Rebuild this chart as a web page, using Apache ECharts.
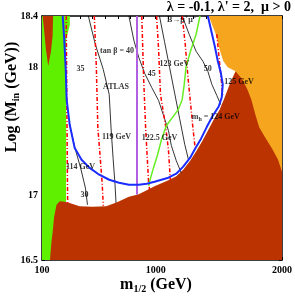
<!DOCTYPE html>
<html><head><meta charset="utf-8">
<script src="https://cdn.jsdelivr.net/npm/echarts@6/dist/echarts.min.js"></script>
<style>html,body{margin:0;padding:0;background:#fff}#c{width:295px;height:301px}</style>
</head><body><div id="c"></div>
<script>
// ---- axis ranges / ticks ----
const xRange = [100, 2000];
const yRange = [16.5, 18.4];
const xTickLabels = [100, 1000, 2000];
const yTickLabels = [16.5, 17, 18, 18.4];

// ---- excluded regions (m_1/2 [GeV], log10 M_in) ----
const greenRegion = [[100,18.4],[320,18.4],[320,18.33],[292,18.22],[290,16.5],[100,16.5]];
const orangeRegion = [[1421,18.4],[1445,18.336],[1476,18.258],[1506,18.14],[1535,18.05],[1570,18.0],[1632,17.969],[1687,17.594],[2000,16.969],[2000,18.4]];
const brownRegion = [[163,16.5],[174,16.633],[186,16.734],[196,16.836],[215,16.93],[241,16.957],[280,16.953],[319,16.943],[397,16.918],[499,16.914],[608,16.918],[694,16.949],[788,16.992],[866,17.012],[929,17.043],[991,17.074],[1046,17.098],[1101,17.121],[1163,17.152],[1218,17.203],[1273,17.273],[1320,17.344],[1367,17.422],[1414,17.508],[1460,17.594],[1507,17.672],[1546,17.766],[1585,17.867],[1632,17.969],[1687,17.906],[1726,17.828],[1757,17.75],[1789,17.633],[1820,17.531],[1867,17.453],[1922,17.367],[1969,17.281],[2000,17.188],[2000,16.5]];
const brownTopLeft = [[105,18.4],[116,18.297],[131,18.141],[149,18.01],[170,18.117],[184,18.245],[188,18.4]];

// ---- contours ----
const blueBoundary = [[264,18.4],[276,18.219],[288,17.984],[295,17.75],[319,17.555],[358,17.375],[413,17.281],[475,17.219],[553,17.164],[632,17.125],[710,17.102],[788,17.086],[866,17.086],[929,17.094],[991,17.109],[1046,17.125],[1101,17.141],[1163,17.172],[1218,17.227],[1273,17.297],[1312,17.367],[1359,17.445],[1406,17.539],[1453,17.625],[1499,17.695],[1523,17.766],[1531,17.867],[1515,17.961],[1492,18.047],[1468,18.164],[1437,18.297],[1413,18.4]];
const mh114 = [[292,18.4],[296,17.8],[300,17.3],[303,16.94]];
const mh119 = [[514,18.4],[530,18.008],[542,17.531],[561,17.297],[577,17.086],[585,16.922]];
const mh1225 = [[890,18.4],[905,17.906],[921,17.516],[944,17.102],[952,17.047]];
const mh123 = [[1007,18.4],[1023,18.141],[1038,17.789],[1077,17.555],[1101,17.359],[1116,17.125]];
const mh124 = [[1210,18.4],[1234,18.18],[1257,17.906],[1273,17.75],[1296,17.516],[1312,17.375]];
const mh125 = [[1484,18.258],[1499,18.102],[1515,17.945],[1531,17.773]];
const tb30 = [[319,17.555],[360,17.375],[405,17.22],[444,17.06],[460,16.93]];
const tb35 = [[467,18.4],[522,18.18],[585,17.984],[632,17.79],[647,17.52],[663,17.29],[678,17.09],[686,16.945]];
const tb40 = [[788,18.4],[827,18.211],[866,18.078],[913,17.953],[968,17.844],[1023,17.742],[1062,17.625],[1101,17.508],[1124,17.391],[1163,17.273],[1202,17.18]];
const tb45 = [[1030,18.4],[1070,18.2],[1110,18.0],[1150,17.8],[1190,17.6],[1230,17.4],[1260,17.28]];
const tb50 = [[1210,18.4],[1265,18.258],[1320,18.125],[1374,18.047],[1413,17.969],[1445,17.867],[1484,17.781],[1515,17.71]];
const bmumu = [[1351,18.4],[1320,18.258],[1273,18.117],[1241,18.008],[1226,17.867],[1210,17.75],[1179,17.672],[1132,17.609],[1085,17.547],[1046,17.438],[1015,17.32],[983,17.219],[960,17.141],[944,17.078]];
const atlas = [[852,18.4],[852,17.01]];

// ---- annotations [m, logM, text] ----
const annotations = [
  [694,18.125,'tan β = 40'],
  [405,17.984,'35'],
  [686,17.844,'ATLAS'],
  [690,17.461,'119 GeV'],
  [405,17.227,'114 GeV'],
  [436,17.008,'30'],
  [1030,17.453,'122.5 GeV'],
  [968,17.945,'45'],
  [1148,18.03,'123 GeV'],
  [1205,18.37,'B→μ{sup|+}μ{sup|−}'],
  [1413,17.984,'50'],
  [1660,17.89,'125 GeV'],
  [1476,17.617,'m{sub|h} = 124 GeV']
];

const FONT = 'Liberation Serif';
const near = (a,b)=>Math.abs(a-b)<1e-6;

function poly(pts, color, z){
  return {type:'custom', coordinateSystem:'cartesian2d', data:[[pts[0][0],pts[0][1]]], silent:true, z:z, animation:false,
    renderItem:(params, api)=>({type:'polygon', shape:{points:pts.map(p=>api.coord(p))}, style:{fill:color}})};
}
function line(pts, color, width, type, z){
  return {type:'line', data:pts, symbol:'none', showSymbol:false, silent:true, animation:false, z:z,
    lineStyle:{color:color, width:width, type:type}};
}
const DD = [4,2,1,2];

const chart = echarts.init(document.getElementById('c'), null, {renderer:'canvas'});
const axisCommon = {
  type:'value', axisLine:{show:true, lineStyle:{color:'#000', width:1.5}},
  axisTick:{show:true, inside:true, length:3, lineStyle:{color:'#000', width:1}},
  splitLine:{show:false}
};
chart.setOption({
  animation:false,
  grid:{left:42, right:9, top:16, bottom:41},
  xAxis:[
    Object.assign({}, axisCommon, {min:xRange[0], max:xRange[1], interval:100, position:'bottom',
      axisLabel:{show:true, margin:5, fontFamily:FONT, fontWeight:'bold', fontSize:10, color:'#000', showMinLabel:true, showMaxLabel:true, hideOverlap:false,
        formatter:v=>xTickLabels.some(t=>near(t,v))?String(v):''}}),
    Object.assign({}, axisCommon, {min:xRange[0], max:xRange[1], interval:100, position:'top', axisLabel:{show:false}})
  ],
  yAxis:[
    Object.assign({}, axisCommon, {min:yRange[0], max:yRange[1], interval:0.1, position:'left',
      axisLabel:{show:true, margin:4, fontFamily:FONT, fontWeight:'bold', fontSize:10, color:'#000', showMinLabel:true, showMaxLabel:true, hideOverlap:false,
        formatter:v=>{const t=yTickLabels.find(t=>near(t,v)); return t===undefined?'':String(t);}}}),
    Object.assign({}, axisCommon, {min:yRange[0], max:yRange[1], interval:0.1, position:'right', axisLabel:{show:false}})
  ],
  graphic:[
    {type:'text', right:4, top:0, style:{text:"λ = -0.1, λ' = 2,  μ > 0", font:'bold 14px "Liberation Serif"', fill:'#000'}},
    {type:'text', x:156, y:276, style:{text:'{n|m}{s|1/2}{n| (GeV)}', align:'center', verticalAlign:'top',
      rich:{n:{fontFamily:FONT, fontWeight:'bold', fontSize:16, fill:'#000'}, s:{fontFamily:FONT, fontWeight:'bold', fontSize:10, fill:'#000', padding:[8,0,0,0]}}}},
    {type:'text', x:12, y:97, rotation:Math.PI/2, style:{text:'{n|Log (M}{s|in}{n| (GeV))}', align:'center', verticalAlign:'middle',
      rich:{n:{fontFamily:FONT, fontWeight:'bold', fontSize:16, fill:'#000'}, s:{fontFamily:FONT, fontWeight:'bold', fontSize:10, fill:'#000', padding:[8,0,0,0]}}}}
  ],
  series:[
    poly(greenRegion,'#5ff000',1),
    poly(orangeRegion,'#f5a61e',2),
    poly(brownRegion,'#bb3300',3),
    poly(brownTopLeft,'#bb3300',3),
    line(tb30,'#000',0.8,'solid',5),
    line(tb35,'#000',0.8,'solid',5),
    line(tb40,'#000',0.8,'solid',5),
    line(tb45,'#000',0.8,'solid',5),
    line(tb50,'#000',0.8,'solid',5),
    line(mh114,'#ff0000',1.5,DD,6),
    line(mh119,'#ff0000',1.5,DD,6),
    line(mh1225,'#ff0000',1.5,DD,6),
    line(mh123,'#ff0000',1.5,DD,6),
    line(mh124,'#ff0000',1.5,DD,6),
    line(mh125,'#ff0000',1.5,DD,6),
    line(bmumu,'#66ee22',1.5,'solid',7),
    line(atlas,'#b060e0',2,'solid',7),
    line(blueBoundary,'#1a2cff',2,'solid',8),
    {type:'scatter', symbolSize:0, silent:true, z:10, animation:false,
      data:annotations.map(a=>({value:[a[0],a[1]], label:{formatter:a[2]}})),
      label:{show:true, position:'inside', fontFamily:FONT, fontWeight:'bold', fontSize:8, color:'#000',
        rich:{sup:{fontFamily:FONT, fontWeight:'bold', fontSize:6, color:'#000', padding:[0,0,5,0]}, sub:{fontFamily:FONT, fontWeight:'bold', fontSize:6, color:'#000', padding:[5,0,0,0]}}}}
  ]
});
</script></body></html>
